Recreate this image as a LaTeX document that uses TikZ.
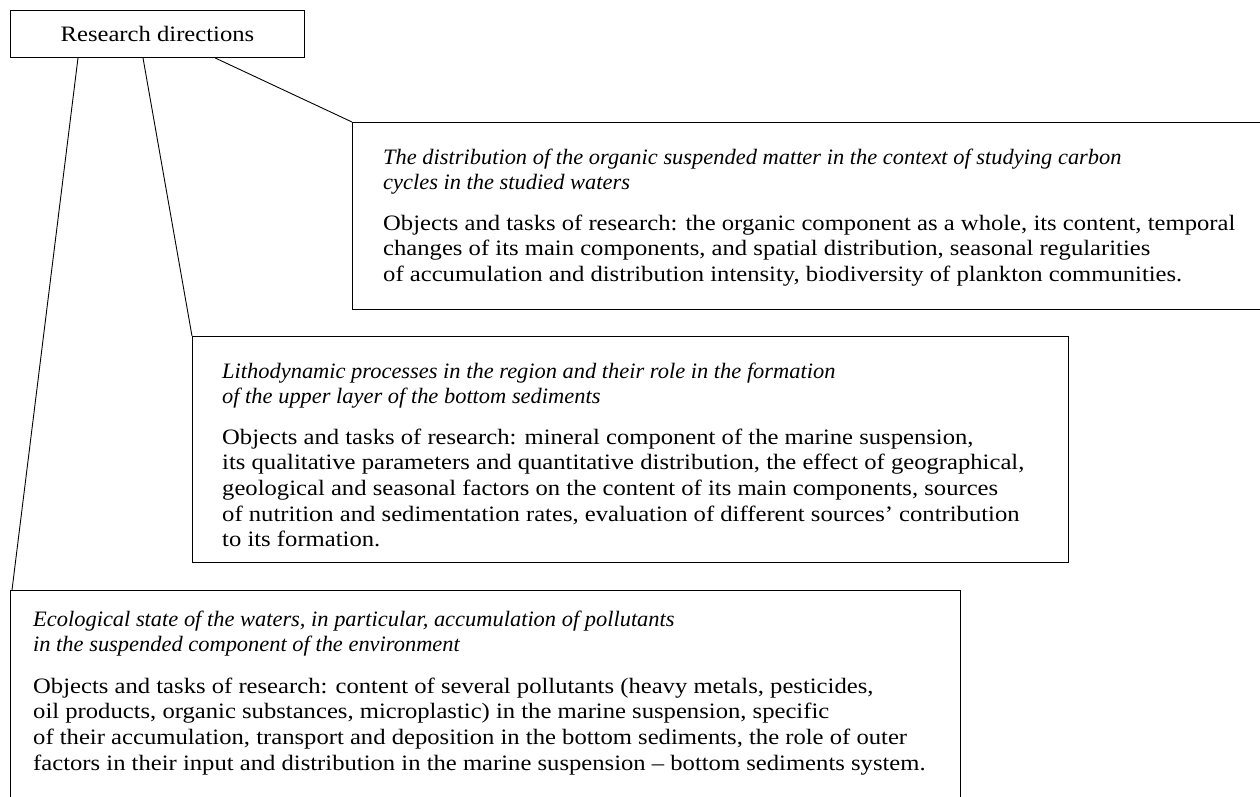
\documentclass[tikz,border=0pt]{standalone}
\usepackage{fontspec}
\setmainfont{Liberation Serif}
\newfontfamily\bodyfont[FakeStretch=1.12,Ligatures=TeX]{Liberation Serif}
\newfontfamily\ttlfont[FakeStretch=1.02,Ligatures=TeX,UprightFont=*-Italic]{Liberation Serif}
\usetikzlibrary{calc}
\tikzset{
  frame/.style={draw, line width=0.9pt, anchor=north west, inner sep=0pt},
  ttl/.style={anchor=base west, inner sep=0pt, align=left, font=\fontsize{22}{25.7}\ttlfont},
  bdy/.style={anchor=base west, inner sep=0pt, align=left, font=\fontsize{22}{25.7}\bodyfont},
  link/.style={line width=0.9pt}
}
\begin{document}
\begin{tikzpicture}[x=1pt,y=-1pt]
\useasboundingbox (0,0) rectangle (1260,797);
\clip (0,0) rectangle (1260,797);
% root
\node[frame, minimum width=294pt, minimum height=47pt, font=\fontsize{22}{25.7}\bodyfont] (root) at (10,10) {Research directions};
% box 1
\node[frame, minimum width=920pt, minimum height=187pt] (b1) at (352,122) {};
\node[ttl] (t1) at (383,189.7) {The distribution of the organic suspended matter in the context of studying carbon\\cycles in the studied waters};
\node[bdy] (d1) at (383,281.4) {Objects and tasks of research: the organic component as a whole, its content, temporal\\changes of its main components, and spatial distribution, seasonal regularities\\of accumulation and distribution intensity, biodiversity of plankton communities.};
% box 2
\node[frame, minimum width=876pt, minimum height=226pt] (b2) at (192,336) {};
\node[ttl] (t2) at (222,403.7) {Lithodynamic processes in the region and their role in the formation\\of the upper layer of the bottom sediments};
\node[bdy] (d2) at (222,546.8) {Objects and tasks of research: mineral component of the marine suspension,\\its qualitative parameters and quantitative distribution, the effect of geographical,\\geological and seasonal factors on the content of its main components, sources\\of nutrition and sedimentation rates, evaluation of different sources’ contribution\\to its formation.};
% box 3
\node[frame, minimum width=950pt, minimum height=260pt] (b3) at (10,590) {};
\node[ttl] (t3) at (33,651.7) {Ecological state of the waters, in particular, accumulation of pollutants\\in the suspended component of the environment};
\node[bdy] (d3) at (33,770.1) {Objects and tasks of research: content of several pollutants (heavy metals, pesticides,\\oil products, organic substances, microplastic) in the marine suspension, specific\\of their accumulation, transport and deposition in the bottom sediments, the role of outer\\factors in their input and distribution in the marine suspension – bottom sediments system.};
% connectors
\draw[link] ($(root.south west)+(68,0)$) -- ($(b3.north west)+(2,0)$);
\draw[link] ($(root.south west)+(133,0)$) -- (b2.north west);
\draw[link] ($(root.south west)+(205,0)$) -- (b1.north west);
\end{tikzpicture}
\end{document}
